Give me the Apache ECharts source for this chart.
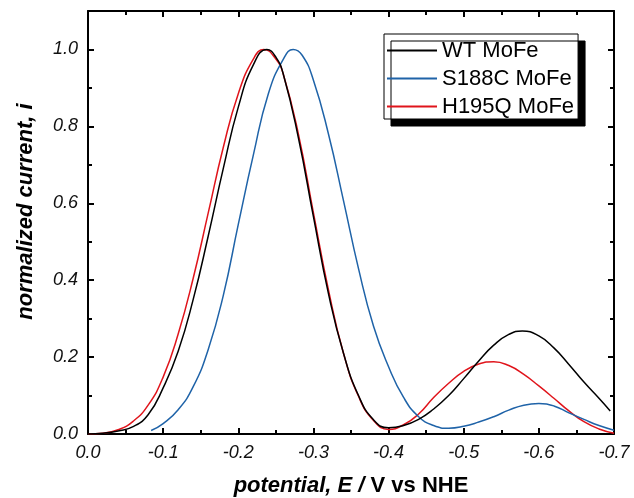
<!DOCTYPE html>
<html>
<head>
<meta charset="utf-8">
<script src="https://cdn.jsdelivr.net/npm/echarts@6/dist/echarts.min.js"></script>
<style>
html,body{margin:0;padding:0;background:#fff;}
#chart{width:634px;height:498px;}
</style>
</head>
<body>
<div id="chart"></div>
<script>
// Data (potential E in V vs NHE, normalized current i)
const seriesNames = ['WT MoFe', 'S188C MoFe', 'H195Q MoFe'];
const seriesColors = ['#000000', '#1f63a8', '#e0141b'];

const wtData = [
  [0, 0], [-0.02, 0.002], [-0.04, 0.008], [-0.06, 0.019], [-0.08, 0.05],
  [-0.10, 0.12], [-0.12, 0.215], [-0.14, 0.35], [-0.16, 0.515], [-0.18, 0.69],
  [-0.20, 0.85], [-0.22, 0.96], [-0.238, 1.0], [-0.25, 0.98], [-0.26, 0.935],
  [-0.28, 0.77], [-0.30, 0.565], [-0.32, 0.365], [-0.34, 0.21], [-0.36, 0.1],
  [-0.38, 0.037], [-0.40, 0.016], [-0.42, 0.022], [-0.44, 0.038], [-0.46, 0.065],
  [-0.48, 0.1], [-0.50, 0.144], [-0.52, 0.19], [-0.54, 0.231], [-0.56, 0.259],
  [-0.578, 0.268], [-0.60, 0.255], [-0.62, 0.224], [-0.64, 0.181], [-0.66, 0.135],
  [-0.68, 0.093], [-0.695, 0.06]
];

const s188cData = [
  [-0.084, 0.009], [-0.10, 0.027], [-0.12, 0.063], [-0.14, 0.123], [-0.16, 0.22],
  [-0.18, 0.36], [-0.20, 0.545], [-0.22, 0.725], [-0.24, 0.885], [-0.26, 0.975],
  [-0.273, 1.0], [-0.285, 0.985], [-0.30, 0.92], [-0.32, 0.78], [-0.34, 0.607],
  [-0.36, 0.43], [-0.38, 0.28], [-0.40, 0.175], [-0.42, 0.095], [-0.44, 0.045],
  [-0.46, 0.022], [-0.48, 0.015], [-0.50, 0.02], [-0.52, 0.031], [-0.54, 0.045],
  [-0.56, 0.062], [-0.58, 0.075], [-0.60, 0.079], [-0.62, 0.073], [-0.64, 0.055],
  [-0.66, 0.038], [-0.68, 0.022], [-0.70, 0.01]
];

const h195qData = [
  [0, 0], [-0.02, 0.002], [-0.04, 0.011], [-0.06, 0.033], [-0.08, 0.075],
  [-0.10, 0.148], [-0.12, 0.26], [-0.14, 0.405], [-0.16, 0.575], [-0.18, 0.745],
  [-0.20, 0.885], [-0.22, 0.975], [-0.234, 1.0], [-0.25, 0.975], [-0.26, 0.935],
  [-0.28, 0.78], [-0.30, 0.575], [-0.32, 0.375], [-0.34, 0.21], [-0.36, 0.098],
  [-0.38, 0.035], [-0.40, 0.012], [-0.42, 0.024], [-0.44, 0.052], [-0.46, 0.095],
  [-0.48, 0.132], [-0.50, 0.163], [-0.52, 0.182], [-0.54, 0.188], [-0.56, 0.178],
  [-0.58, 0.155], [-0.60, 0.125], [-0.62, 0.093], [-0.64, 0.06], [-0.66, 0.032],
  [-0.68, 0.013], [-0.70, 0.002]
];

const xRange = [-0.7, 0];
const yRange = [0, 1.1];

const chart = echarts.init(document.getElementById('chart'), null, {renderer: 'canvas'});
const FONT = 'Arial, "Liberation Sans", sans-serif';
const fmt = v => (Math.abs(v) < 1e-9 ? '0.0' : v.toFixed(1));

const baseX = {
  type: 'value', min: xRange[0], max: xRange[1], interval: 0.1, inverse: true,
  axisLine: {show: true, onZero: false, lineStyle: {color: '#000', width: 2}},
  axisTick: {show: true, inside: true, length: 6, lineStyle: {color: '#000', width: 2}},
  minorTick: {show: true, splitNumber: 2, length: 4, lineStyle: {color: '#000', width: 2}},
  splitLine: {show: false}
};
const baseY = {
  type: 'value', min: yRange[0], max: yRange[1], interval: 0.2,
  axisLine: {show: true, onZero: false, lineStyle: {color: '#000', width: 2}},
  axisTick: {show: true, inside: true, length: 6, lineStyle: {color: '#000', width: 2}},
  minorTick: {show: true, splitNumber: 2, length: 4, lineStyle: {color: '#000', width: 2}},
  splitLine: {show: false}
};

const datasets = [wtData, s188cData, h195qData];

chart.setOption({
  backgroundColor: '#ffffff',
  animation: false,
  grid: {left: 88, right: 20, top: 11, bottom: 64, containLabel: false, outerBoundsMode: 'none'},
  legend: {
    show: true,
    data: seriesNames,
    orient: 'vertical',
    left: 384, top: 34,
    icon: 'rect',
    itemWidth: 50, itemHeight: 2, itemGap: 5,
    padding: [5, 4, 1, 3],
    backgroundColor: '#ffffff',
    borderColor: '#000', borderWidth: 1,
    shadowColor: '#000', shadowBlur: 0, shadowOffsetX: 7, shadowOffsetY: 7,
    textStyle: {fontFamily: FONT, fontSize: 22, lineHeight: 23, color: '#000'}
  },
  xAxis: [
    Object.assign({}, baseX, {
      position: 'bottom',
      axisLabel: {show: true, formatter: fmt, fontFamily: FONT, fontSize: 18, fontStyle: 'italic', color: '#111', margin: 10},
      name: '{bi|potential, E / }{b|V vs NHE}',
      nameLocation: 'middle', nameGap: 41,
      nameTextStyle: {
        rich: {
          bi: {fontFamily: FONT, fontSize: 22, fontWeight: 'bold', fontStyle: 'italic', color: '#000'},
          b: {fontFamily: FONT, fontSize: 22, fontWeight: 'bold', color: '#000'}
        }
      }
    }),
    Object.assign({}, baseX, {position: 'top', axisLabel: {show: false}})
  ],
  yAxis: [
    Object.assign({}, baseY, {
      position: 'left',
      axisLabel: {show: true, showMaxLabel: false, formatter: fmt, fontFamily: FONT, fontSize: 18, fontStyle: 'italic', color: '#111', margin: 10},
      name: 'normalized current, i',
      nameLocation: 'middle', nameGap: 51, nameRotate: 90,
      nameTextStyle: {fontFamily: FONT, fontSize: 22, fontWeight: 'bold', fontStyle: 'italic', color: '#000', padding: [0, 0, 0, 22]}
    }),
    Object.assign({}, baseY, {position: 'right', axisLabel: {show: false}})
  ],
  series: seriesNames.map((name, i) => ({
    name: name,
    type: 'line',
    xAxisIndex: 0, yAxisIndex: 0,
    data: datasets[i],
    smooth: true,
    symbol: 'none',
    showSymbol: false,
    lineStyle: {color: seriesColors[i], width: 1.5},
    itemStyle: {color: seriesColors[i]},
    z: 3 - i
  }))
});
</script>
</body>
</html>
